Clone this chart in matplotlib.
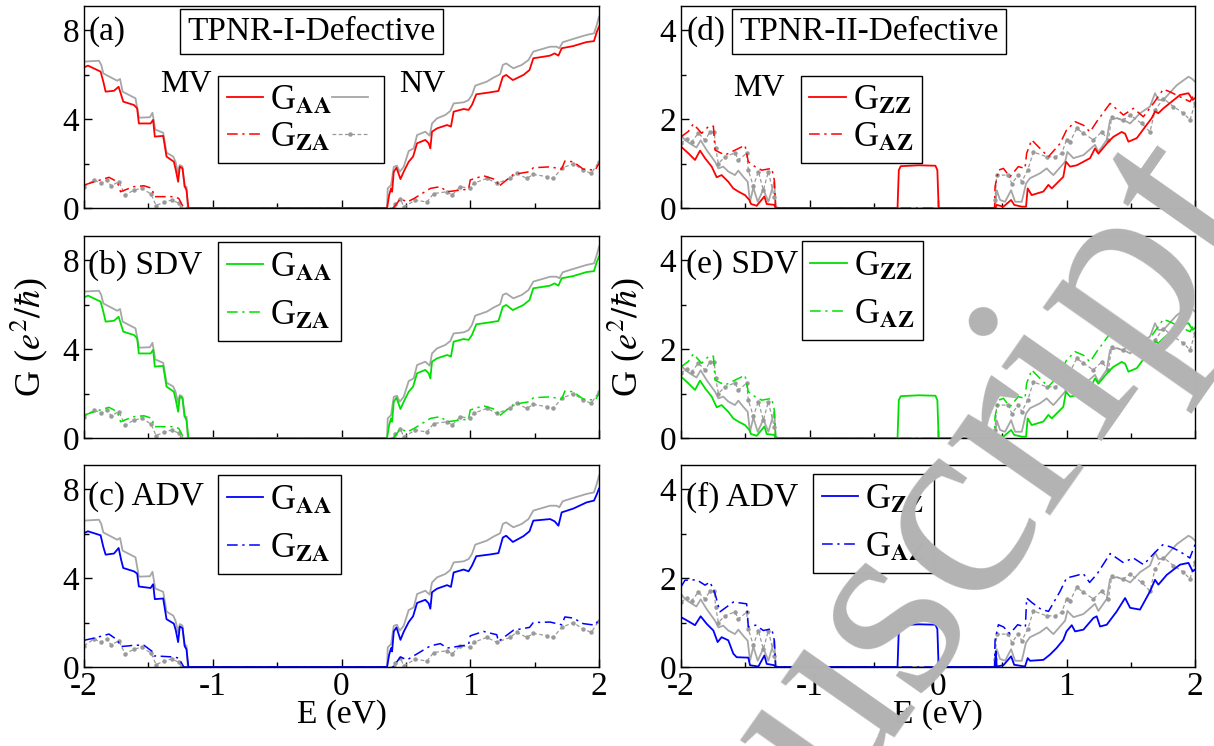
import numpy as np
import matplotlib
matplotlib.use('Agg')
import matplotlib.pyplot as plt
from matplotlib.ticker import MultipleLocator

plt.rcParams['font.family'] = ['Liberation Serif', 'DejaVu Serif']
plt.rcParams['mathtext.fontset'] = 'stix'
plt.rcParams['axes.unicode_minus'] = False

# ---------------- TPNR-I (left column), (E, G) ----------------
# gray reference curve G_AA
gray_aa_I_left = [(-2.0, 6.58), (-1.884, 6.62), (-1.866, 6.43), (-1.85, 6.05), (-1.742, 5.72),
                  (-1.72, 5.80), (-1.70, 5.23), (-1.60, 4.93), (-1.574, 4.06), (-1.488, 4.08),
                  (-1.468, 4.28), (-1.447, 3.53), (-1.385, 3.38), (-1.359, 2.49), (-1.307, 2.31),
                  (-1.289, 2.08), (-1.269, 1.56), (-1.256, 1.93), (-1.235, 1.86), (-1.22, 0.96),
                  (-1.204, 0.96), (-1.194, 0.0)]
gray_aa_I_right = [(0.354, 0.0), (0.359, 0.88), (0.385, 1.03), (0.406, 1.85), (0.431, 1.90),
                   (0.452, 1.63), (0.483, 1.85), (0.522, 2.56), (0.561, 2.68), (0.587, 3.28),
                   (0.651, 3.43), (0.685, 3.25), (0.703, 3.80), (0.742, 4.03), (0.806, 4.18),
                   (0.845, 4.36), (0.871, 4.70), (0.949, 4.75), (0.987, 4.85), (1.013, 5.08),
                   (1.039, 5.50), (1.129, 5.68), (1.18, 5.86), (1.232, 6.01), (1.253, 6.43),
                   (1.279, 6.50), (1.335, 6.28), (1.40, 6.43), (1.452, 6.65), (1.49, 7.03),
                   (1.62, 7.25), (1.671, 7.25), (1.692, 7.18), (1.718, 7.45), (1.80, 7.60),
                   (1.904, 7.78), (1.961, 7.85), (1.982, 8.22), (2.0, 8.60)]
# gray reference curve G_ZA (dotted)
gray_za_I_left = [(-2.0, 0.96), (-1.92, 1.26), (-1.87, 1.11), (-1.82, 1.26), (-1.79, 0.99),
                  (-1.73, 1.18), (-1.68, 0.58), (-1.61, 0.81), (-1.55, 0.88), (-1.48, 0.63),
                  (-1.44, 0.11), (-1.38, 0.26), (-1.32, 0.36), (-1.26, 0.21), (-1.245, 0.0)]
gray_za_I_right = [(0.41, 0.0), (0.419, 0.20), (0.458, 0.42), (0.483, 0.05), (0.574, 0.35),
                   (0.664, 0.27), (0.716, 0.65), (0.82, 0.73), (0.858, 0.58), (0.923, 0.96),
                   (1.0, 0.88), (1.026, 1.11), (1.129, 1.33), (1.206, 1.11), (1.31, 1.33),
                   (1.361, 1.56), (1.439, 1.33), (1.49, 1.51), (1.594, 1.41), (1.645, 1.33),
                   (1.71, 1.78), (1.80, 2.00), (1.877, 1.70), (1.94, 1.56), (2.0, 2.08)]

# defective G_AA (panels a, b share it; c has its own values)
aa_I_left_E = [-2.0, -1.969, -1.871, -1.85, -1.832, -1.767, -1.731, -1.711, -1.695, -1.612,
               -1.587, -1.574, -1.483, -1.463, -1.45, -1.385, -1.359, -1.302, -1.287, -1.269,
               -1.256, -1.235, -1.217, -1.204, -1.189]
aa_I_left_ab = [6.32, 6.40, 6.13, 5.68, 5.23, 5.27, 5.45, 5.08, 4.78, 4.63,
                4.48, 3.80, 3.80, 3.96, 3.21, 3.24, 2.31, 2.08, 1.71, 1.18,
                1.86, 1.78, 0.96, 0.81, 0.0]
aa_I_left_c = [6.02, 6.10, 5.92, 5.40, 5.05, 5.10, 5.35, 4.80, 4.45, 4.30,
               4.20, 3.62, 3.55, 3.72, 3.05, 3.08, 2.15, 1.95, 1.65, 1.12,
               1.82, 1.75, 0.92, 0.80, 0.0]
aa_I_right_E = [0.354, 0.37, 0.385, 0.393, 0.406, 0.427, 0.458, 0.483, 0.522, 0.556,
                0.587, 0.651, 0.677, 0.69, 0.703, 0.742, 0.82, 0.85, 0.871, 0.949,
                0.987, 1.013, 1.047, 1.155, 1.219, 1.253, 1.279, 1.331, 1.413, 1.46,
                1.49, 1.568, 1.62, 1.655, 1.685, 1.71, 1.80, 1.904, 1.961, 1.982, 2.0]
aa_I_right_ab = [0.0, 0.58, 0.88, 0.73, 1.63, 1.81, 1.30, 1.63, 2.08, 2.31,
                 2.91, 3.06, 2.91, 2.68, 3.43, 3.58, 3.73, 3.66, 4.33, 4.45,
                 4.41, 4.63, 5.11, 5.20, 5.26, 5.90, 5.98, 5.75, 5.98, 6.20,
                 6.73, 6.80, 6.85, 6.95, 6.85, 7.18, 7.28, 7.46, 7.50, 7.90, 8.15]
aa_I_right_c = [0.0, 0.55, 0.85, 0.70, 1.60, 1.78, 1.22, 1.58, 2.02, 2.28,
                2.88, 3.02, 2.86, 2.62, 3.36, 3.52, 3.68, 3.60, 4.25, 4.38,
                4.30, 4.55, 4.98, 5.06, 5.12, 5.82, 5.90, 5.62, 5.88, 6.10,
                6.58, 6.62, 6.65, 6.55, 6.35, 6.95, 7.12, 7.40, 7.48, 7.75, 8.02]

# defective G_ZA
za_I_E = [-2.0, -1.92, -1.806, -1.742, -1.716, -1.651, -1.612, -1.535, -1.47, -1.457,
          -1.302, -1.264, -1.225, 0.40, 0.419, 0.458, 0.51, 0.561, 0.69, 0.768,
          0.82, 0.987, 1.0, 1.103, 1.206, 1.219, 1.335, 1.46, 1.49, 1.62,
          1.71, 1.735, 1.80, 1.877, 1.97, 2.0]
za_I_ab = [1.03, 1.18, 1.38, 1.18, 0.73, 0.88, 0.96, 1.00, 0.88, 0.51,
           0.51, 0.43, 0.0, 0.0, 0.12, 0.42, 0.27, 0.42, 0.88, 0.96,
           0.73, 0.85, 1.26, 1.45, 1.26, 0.96, 1.51, 1.63, 1.81, 1.85,
           1.75, 2.11, 2.08, 1.75, 1.70, 2.00]
za_I_c = [1.20, 1.30, 1.48, 1.22, 0.92, 0.95, 0.98, 0.98, 0.70, 0.50,
          0.45, 0.40, 0.0, 0.0, 0.15, 0.45, 0.32, 0.50, 0.95, 1.05,
          0.85, 1.00, 1.40, 1.60, 1.45, 1.15, 1.65, 1.78, 2.00, 2.02,
          1.90, 2.25, 2.20, 1.95, 1.88, 2.15]

# ---------------- TPNR-II (right column) ----------------
gray_zz_II_left = [(-2.0, 1.64), (-1.969, 1.53), (-1.93, 1.45), (-1.88, 1.36), (-1.847, 1.52),
                   (-1.80, 1.30), (-1.735, 1.04), (-1.709, 0.89), (-1.671, 0.93), (-1.632, 0.82),
                   (-1.58, 0.74), (-1.554, 0.84), (-1.515, 0.70), (-1.481, 0.59), (-1.463, 0.14),
                   (-1.437, 0.46), (-1.403, 0.14), (-1.359, 0.42), (-1.32, 0.14), (-1.274, 0.59),
                   (-1.263, 0.0)]
gray_zz_II_right = [(0.444, 0.0), (0.457, 0.40), (0.483, 0.18), (0.522, 0.14), (0.569, 0.40),
                    (0.60, 0.14), (0.652, 0.14), (0.685, 0.55), (0.716, 0.67), (0.794, 0.78),
                    (0.846, 0.89), (0.872, 0.81), (0.898, 0.74), (0.989, 1.04), (1.007, 1.26),
                    (1.054, 1.12), (1.132, 1.19), (1.222, 1.42), (1.248, 1.26), (1.313, 1.53),
                    (1.339, 1.98), (1.391, 2.02), (1.469, 1.94), (1.495, 1.90), (1.572, 2.13),
                    (1.65, 2.28), (1.689, 2.58), (1.715, 2.43), (1.754, 2.43), (1.858, 2.76),
                    (1.949, 2.95), (1.974, 2.91), (2.0, 2.84)]
gray_az_II_left = [(-2.0, 1.45), (-1.956, 1.56), (-1.917, 1.49), (-1.865, 1.68), (-1.813, 1.53),
                   (-1.774, 1.71), (-1.741, 1.71), (-1.73, 1.34), (-1.709, 1.00), (-1.658, 1.15),
                   (-1.58, 1.24), (-1.554, 1.08), (-1.489, 1.23), (-1.476, 0.85), (-1.437, 0.49),
                   (-1.398, 0.82), (-1.359, 0.40), (-1.32, 0.82), (-1.274, 0.24), (-1.263, 0.0)]
gray_az_II_right = [(0.44, 0.0), (0.444, 0.18), (0.457, 0.74), (0.548, 0.74), (0.574, 0.55),
                    (0.625, 0.74), (0.652, 0.59), (0.698, 0.85), (0.742, 1.26), (0.846, 1.15),
                    (0.911, 1.15), (0.963, 1.23), (1.0, 1.53), (1.028, 1.49), (1.08, 1.79),
                    (1.132, 1.68), (1.209, 1.53), (1.274, 1.71), (1.326, 1.53), (1.352, 2.05),
                    (1.443, 1.98), (1.495, 2.09), (1.585, 1.90), (1.65, 1.71), (1.689, 2.20),
                    (1.754, 2.46), (1.832, 2.28), (1.91, 2.13), (1.961, 1.98), (2.0, 2.35)]

# defective G_ZZ (d and e share it), incl. the mid-gap plateau
zz_II_de = [(-2.0, 1.38), (-1.943, 1.23), (-1.891, 1.08), (-1.852, 1.29), (-1.813, 1.12),
            (-1.761, 0.93), (-1.722, 0.69), (-1.684, 0.74), (-1.632, 0.59), (-1.593, 0.44),
            (-1.554, 0.37), (-1.502, 0.29), (-1.468, 0.18), (-1.455, 0.09), (-1.411, 0.05),
            (-1.351, 0.26), (-1.333, 0.09), (-1.274, 0.07), (-1.263, 0.0),
            (-0.315, 0.0), (-0.305, 0.85), (-0.29, 0.94), (-0.15, 0.96), (-0.02, 0.95),
            (-0.005, 0.85), (0.005, 0.0),
            (0.444, 0.0), (0.457, 0.07), (0.509, 0.03), (0.569, 0.18), (0.593, 0.07),
            (0.652, 0.03), (0.685, 0.03), (0.698, 0.44), (0.729, 0.29), (0.82, 0.37),
            (0.859, 0.52), (0.885, 0.44), (0.975, 0.70), (0.996, 1.04), (1.028, 0.93),
            (1.08, 0.96), (1.183, 1.12), (1.222, 1.34), (1.248, 1.22), (1.326, 1.49),
            (1.365, 1.60), (1.43, 1.71), (1.456, 1.67), (1.482, 1.49), (1.547, 1.57),
            (1.624, 1.87), (1.663, 2.02), (1.689, 2.17), (1.715, 2.13), (1.754, 2.24),
            (1.883, 2.54), (1.949, 2.58), (1.982, 2.43), (2.0, 2.47)]
zz_II_f = [(-2.0, 1.12), (-1.956, 1.05), (-1.891, 0.94), (-1.847, 1.14), (-1.80, 0.97),
           (-1.748, 0.82), (-1.715, 0.56), (-1.684, 0.67), (-1.632, 0.60), (-1.593, 0.30),
           (-1.567, 0.22), (-1.476, 0.21), (-1.463, 0.04), (-1.398, 0.01), (-1.351, 0.26),
           (-1.333, 0.07), (-1.274, 0.04), (-1.263, 0.0),
           (-0.315, 0.0), (-0.305, 0.85), (-0.29, 0.94), (-0.15, 0.96), (-0.02, 0.95),
           (-0.005, 0.85), (0.005, 0.0),
           (0.444, 0.0), (0.45, 0.35), (0.457, 0.01), (0.509, 0.04), (0.569, 0.24),
           (0.593, 0.05), (0.677, 0.01), (0.698, 0.20), (0.716, 0.14), (0.82, 0.16),
           (0.872, 0.28), (0.924, 0.43), (0.975, 0.61), (1.0, 0.80), (1.041, 0.94),
           (1.067, 0.80), (1.132, 0.84), (1.209, 1.10), (1.235, 1.14), (1.261, 0.91),
           (1.313, 0.95), (1.391, 1.25), (1.456, 1.55), (1.495, 1.33), (1.572, 1.29),
           (1.65, 1.70), (1.689, 1.96), (1.715, 1.85), (1.78, 2.07), (1.883, 2.30),
           (1.949, 2.34), (1.982, 2.15), (2.0, 2.19)]

# defective G_AZ
az_II_de = [(-2.0, 1.60), (-1.943, 1.72), (-1.904, 1.89), (-1.839, 1.68), (-1.787, 1.83),
            (-1.748, 1.84), (-1.735, 1.30), (-1.658, 1.19), (-1.58, 1.30), (-1.502, 1.41),
            (-1.476, 1.04), (-1.424, 0.93), (-1.372, 0.85), (-1.294, 0.89), (-1.274, 0.63),
            (-1.263, 0.0), (0.44, 0.0),
            (0.444, 0.48), (0.47, 0.85), (0.509, 0.89), (0.56, 0.70), (0.625, 0.93),
            (0.677, 0.89), (0.69, 1.23), (0.729, 1.53), (0.807, 1.30), (0.859, 1.15),
            (0.95, 1.45), (1.0, 1.75), (1.067, 1.94), (1.132, 1.86), (1.183, 1.71),
            (1.235, 1.94), (1.339, 2.35), (1.443, 2.09), (1.521, 2.24), (1.598, 2.05),
            (1.676, 2.35), (1.754, 2.67), (1.806, 2.61), (1.883, 2.50), (1.961, 2.39),
            (2.0, 2.58)]
az_II_f = [(-2.0, 1.80), (-1.969, 1.95), (-1.878, 1.96), (-1.813, 1.84), (-1.774, 1.91),
           (-1.735, 1.65), (-1.697, 1.24), (-1.593, 1.46), (-1.489, 1.42), (-1.476, 0.90),
           (-1.419, 0.94), (-1.359, 0.82), (-1.294, 0.86), (-1.274, 0.60), (-1.263, 0.0),
           (0.44, 0.0),
           (0.444, 0.60), (0.47, 0.95), (0.51, 0.90), (0.56, 0.75), (0.62, 0.95),
           (0.68, 0.90), (0.69, 1.55), (0.73, 1.45), (0.80, 1.30), (0.86, 1.25),
           (0.95, 1.70), (1.0, 2.00), (1.07, 2.05), (1.13, 2.10), (1.18, 1.90),
           (1.24, 2.10), (1.34, 2.55), (1.44, 2.35), (1.52, 2.45), (1.60, 2.30),
           (1.68, 2.55), (1.75, 2.75), (1.81, 2.70), (1.88, 2.60), (1.96, 2.45),
           (2.0, 2.75)]


def xy(*parts):
    pts = [p for part in parts for p in part]
    return np.array(pts).T


GRAY = '#a6a6a6'
DOT = dict(color='#9a9a9a', lw=0.9, ls=(0, (3, 2)), marker='o', ms=2.2)
DASHDOT = (0, (7, 3, 1.5, 3))
LEG = dict(loc='upper left', handletextpad=0.2, handlelength=1.05, borderpad=0.25,
           fancybox=False, framealpha=1, fontsize=25, borderaxespad=0)

fig = plt.figure(figsize=(12.14, 7.46), dpi=100)
W, H = 1214, 746
col_x = [(84, 599), (681, 1195)]
row_y = [(6, 208), (236, 438), (465, 667)]

axes = {}
for c in range(2):
    for r in range(3):
        x0, x1 = col_x[c]
        y0, y1 = row_y[r]
        ax = fig.add_axes([x0 / W, 1 - y1 / H, (x1 - x0) / W, (y1 - y0) / H])
        axes[(c, r)] = ax

colors = ['#ff0000', '#00e000', '#0000ff']
tags_I = ['(a)', '(b) SDV', '(c) ADV']
tags_II = ['(d)', '(e) SDV', '(f) ADV']
tag_y = [0.875, 0.856, 0.842]
spacing = [0.12, 0.45, 0.45]

for r in range(3):
    # ---------- left column ----------
    ax = axes[(0, r)]
    col = colors[r]
    gx, gy = xy(gray_aa_I_left, gray_aa_I_right)
    dx, dy = xy(gray_za_I_left, gray_za_I_right)
    g_aa = ax.plot(gx, gy, color=GRAY, lw=1.3)[0]
    g_za = ax.plot(dx, dy, **DOT)[0]
    aa_left = aa_I_left_c if r == 2 else aa_I_left_ab
    aa_right = aa_I_right_c if r == 2 else aa_I_right_ab
    za_vals = za_I_c if r == 2 else za_I_ab
    c_za = ax.plot(za_I_E, za_vals, color=col, lw=1.1, ls=DASHDOT)[0]
    c_aa = ax.plot(aa_I_left_E + aa_I_right_E, aa_left + aa_right, color=col, lw=1.3)[0]
    ax.set_ylim(0, 9.08)
    ax.yaxis.set_major_locator(MultipleLocator(4))
    ax.yaxis.set_minor_locator(MultipleLocator(2))
    lab_aa = 'G$_{\\mathbf{AA}}$'
    lab_za = 'G$_{\\mathbf{ZA}}$'
    if r == 0:
        ax.legend([c_aa, c_za, g_aa, g_za], [lab_aa, lab_za, '', ''], ncol=2,
                  bbox_to_anchor=(0.26, 0.655), columnspacing=0.0,
                  labelspacing=spacing[r], **LEG)
        ax.text(0.148, 0.61, 'MV', transform=ax.transAxes, fontsize=23, va='center')
        ax.text(0.612, 0.61, 'NV', transform=ax.transAxes, fontsize=23, va='center')
        ax.text(0.441, 0.874, 'TPNR-I-Defective', transform=ax.transAxes, fontsize=24,
                ha='center', va='center',
                bbox=dict(boxstyle='square,pad=0.22', fc='white', ec='black', lw=1))
    else:
        top = 0.97 if r == 1 else 0.95
        ax.legend([c_aa, c_za], [lab_aa, lab_za], bbox_to_anchor=(0.26, top),
                  labelspacing=spacing[r], **LEG)
    ax.text(0.008, tag_y[r], tags_I[r], transform=ax.transAxes, fontsize=24, va='center')

    # ---------- right column ----------
    ax = axes[(1, r)]
    gx, gy = xy(gray_zz_II_left, gray_zz_II_right)
    dx, dy = xy(gray_az_II_left, gray_az_II_right)
    ax.plot(gx, gy, color=GRAY, lw=1.3)
    ax.plot(dx, dy, **DOT)
    ax_, ay_ = xy(az_II_f if r == 2 else az_II_de)
    zx_, zy_ = xy(zz_II_f if r == 2 else zz_II_de)
    c_az = ax.plot(ax_, ay_, color=col, lw=1.1, ls=DASHDOT)[0]
    c_zz = ax.plot(zx_, zy_, color=col, lw=1.3)[0]
    ax.set_ylim(0, 4.54)
    ax.yaxis.set_major_locator(MultipleLocator(2))
    ax.yaxis.set_minor_locator(MultipleLocator(1))
    lab_zz = 'G$_{\\mathbf{ZZ}}$'
    lab_az = 'G$_{\\mathbf{AZ}}$'
    anchors = [(0.233, 0.655), (0.235, 0.975), (0.257, 0.955)]
    ax.legend([c_zz, c_az], [lab_zz, lab_az], bbox_to_anchor=anchors[r],
              labelspacing=spacing[r], **LEG)
    if r == 0:
        ax.text(0.101, 0.594, 'MV', transform=ax.transAxes, fontsize=23, va='center')
        ax.text(0.366, 0.874, 'TPNR-II-Defective', transform=ax.transAxes, fontsize=24,
                ha='center', va='center',
                bbox=dict(boxstyle='square,pad=0.22', fc='white', ec='black', lw=1))
    ax.text(0.01, tag_y[r], tags_II[r], transform=ax.transAxes, fontsize=24, va='center')

for (c, r), ax in axes.items():
    ax.set_xlim(-2, 2)
    ax.xaxis.set_major_locator(MultipleLocator(1))
    ax.xaxis.set_minor_locator(MultipleLocator(0.5))
    ax.tick_params(which='both', direction='in', top=False, right=False, labelsize=24)
    ax.tick_params(which='major', length=6, width=1)
    ax.tick_params(which='minor', length=3.5, width=1)
    for s in ax.spines.values():
        s.set_linewidth(1.0)
    frame = ax.get_legend().get_frame()
    frame.set_edgecolor('black')
    frame.set_linewidth(1.0)
    if r < 2:
        ax.tick_params(labelbottom=False)
    else:
        ax.set_xlabel('E (eV)', fontsize=24, labelpad=-2)
    if r == 1:
        ax.set_ylabel('G ($e^2/\\hbar$)', fontsize=26, labelpad=9)

# watermark left on the page
fig.text(0.865, 0.316, 'uscript', rotation=55, rotation_mode='anchor', fontsize=195,
         color='#b3b3b3', family='Liberation Serif', ha='center', va='baseline', zorder=10)

fig.savefig('out.png', dpi=100)
